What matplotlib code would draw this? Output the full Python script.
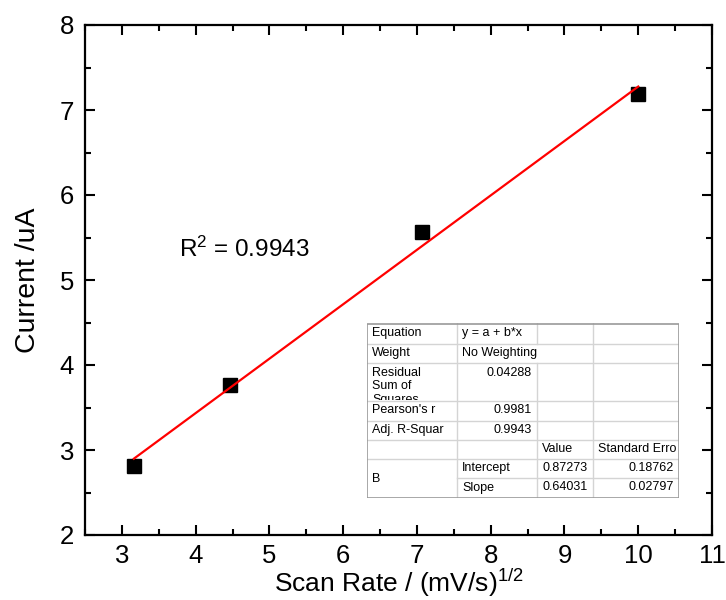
import numpy as np
import matplotlib
matplotlib.use("Agg")
import matplotlib.pyplot as plt
from matplotlib.patches import Rectangle
from matplotlib.transforms import Bbox, TransformedBbox

plt.rcParams['font.family'] = ['Liberation Sans', 'DejaVu Sans']
plt.rcParams['mathtext.fontset'] = 'custom'
plt.rcParams['mathtext.rm'] = 'Liberation Sans'
plt.rcParams['mathtext.it'] = 'Liberation Sans:italic'

# ---- data ----
scan_rate_sqrt = [np.sqrt(10), np.sqrt(20), np.sqrt(50), np.sqrt(100)]
current_uA = [2.81, 3.76, 5.56, 7.19]
fit_intercept = 0.87273
fit_slope = 0.64031
r2_text = r"R$^{\mathrm{2}}$ = 0.9943"

x_ticks = [3, 4, 5, 6, 7, 8, 9, 10, 11]
y_ticks = [2, 3, 4, 5, 6, 7, 8]

table_rows = [
    ["Equation", "y = a + b*x", "", ""],
    ["Weight", "No Weighting", "", ""],
    ["Residual\nSum of\nSquares", "0.04288", "", ""],
    ["Pearson's r", "0.9981", "", ""],
    ["Adj. R-Squar", "0.9943", "", ""],
    ["", "", "Value", "Standard Erro"],
    ["B", "Intercept", "0.87273", "0.18762"],
    ["", "Slope", "0.64031", "0.02797"],
]

W, H = 726, 600
fig = plt.figure(figsize=(W / 100, H / 100), dpi=100)
ax_l, ax_r, ax_t, ax_b = 85, 712, 25, 535
ax = fig.add_axes([ax_l / W, 1 - ax_b / H, (ax_r - ax_l) / W, (ax_b - ax_t) / H])

ax.plot(scan_rate_sqrt, current_uA, linestyle='none', marker='s', markersize=10.5,
        color='black', zorder=3)
xf = np.array([min(scan_rate_sqrt), max(scan_rate_sqrt)])
ax.plot(xf, fit_intercept + fit_slope * xf, color='#ff0000', linewidth=1.6, zorder=4)

ax.set_xlim(2.5, 11)
ax.set_ylim(2, 8)
ax.set_xticks(x_ticks)
ax.set_yticks(y_ticks)
ax.set_xticks(np.arange(2.5, 11.01, 0.5), minor=True)
ax.set_yticks(np.arange(2, 8.01, 0.5), minor=True)
ax.tick_params(which='both', direction='in', top=True, right=True, width=1.5)
ax.tick_params(which='major', length=7, labelsize=18.5)
ax.tick_params(axis='y', which='major', pad=8)
ax.tick_params(axis='x', which='major', pad=6.5)
ax.tick_params(which='minor', length=4)
for s in ax.spines.values():
    s.set_linewidth(1.6)

ax.set_xlabel(r'Scan Rate / (mV/s)$^{\mathrm{1/2}}$', fontsize=19, labelpad=-0.5)
ax.set_ylabel('Current /uA', fontsize=20.5, labelpad=13)

ax.text(0.150, 0.546, r2_text, transform=ax.transAxes, fontsize=17.5,
        ha='left', va='baseline')

# ---- fit table ----
tl, tr, tt, tb = 367, 679, 323, 498
TW, TH = tr - tl, tb - tt
tax = fig.add_axes([tl / W, 1 - tb / H, TW / W, TH / H])
tax.set_xlim(0, TW)
tax.set_ylim(0, TH)
tax.axis('off')
tax.add_patch(Rectangle((0, 0), TW, TH, facecolor='white', edgecolor='none', zorder=0))


def Y(y):
    return TH - y


col_b = [0, 90, 170, 226, 312]
row_b = [0, 21, 40, 78, 98, 117, 136, 155, 175]

grid_c = '#d4d4d4'
for i, yb in enumerate(row_b[1:-1], start=1):
    if i == 7:
        tax.plot([col_b[1], col_b[-1]], [Y(yb), Y(yb)], color=grid_c, lw=1)
    else:
        tax.plot([0, col_b[-1]], [Y(yb), Y(yb)], color=grid_c, lw=1)
for j, xb in enumerate(col_b[1:-1], start=1):
    if j == 2:
        tax.plot([xb, xb], [Y(0), Y(row_b[1])], color=grid_c, lw=1)
        tax.plot([xb, xb], [Y(row_b[2]), Y(row_b[-1])], color=grid_c, lw=1)
    else:
        tax.plot([xb, xb], [Y(0), Y(row_b[-1])], color=grid_c, lw=1)
tax.add_patch(Rectangle((0.5, 0.5), TW - 1, TH - 1, facecolor='none',
                        edgecolor='#9a9a9a', lw=1.2, zorder=5))

fs = 9
for i, row in enumerate(table_rows):
    y0, y1 = row_b[i], row_b[i + 1]
    yc = (y0 + y1) / 2
    for j, txt in enumerate(row):
        if not txt:
            continue
        x0, x1 = col_b[j], col_b[j + 1]
        right = j >= 1 and txt[0].isdigit()
        if i == 6 and j == 0:
            yy = (row_b[6] + row_b[8]) / 2
            tax.text(x0 + 5, Y(yy), txt, fontsize=fs, ha='left', va='center')
            continue
        if i == 2:
            t = tax.text((x1 - 5) if right else (x0 + 5), Y(y0 + 4), txt, fontsize=fs,
                         ha='right' if right else 'left', va='top', linespacing=1.15,
                         clip_on=True)
            t.set_clip_box(TransformedBbox(Bbox([[x0, Y(y1) + 0.5], [x1, Y(y0)]]), tax.transData))
            continue
        t = tax.text((x1 - 5) if right else (x0 + 5), Y(yc - 0.5), txt, fontsize=fs,
                     ha='right' if right else 'left', va='center', clip_on=True)
        t.set_clip_box(TransformedBbox(Bbox([[x0, Y(y1)], [TW - 1, Y(y0)]]), tax.transData))

fig.savefig('out.png', dpi=100)
